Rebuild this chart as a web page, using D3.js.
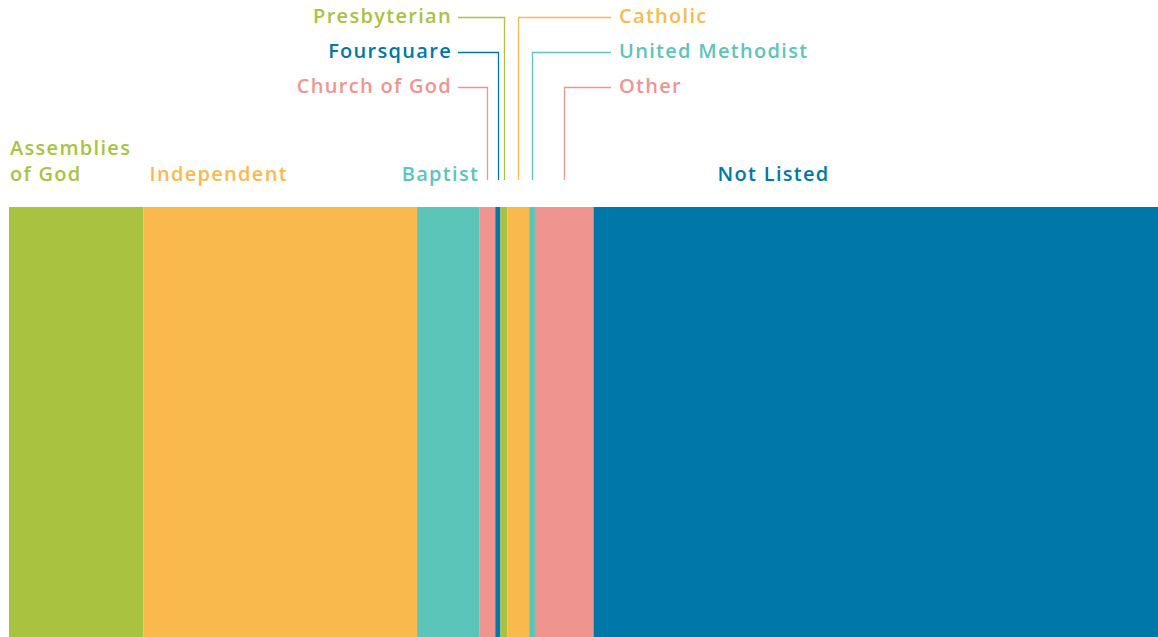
<!DOCTYPE html>
<html>
<head>
<meta charset="utf-8">
<script src="https://cdn.jsdelivr.net/npm/d3@7"></script>
<style>
  body { margin: 0; background: #fff; }
  text { font-family: "Open Sans", sans-serif; font-weight: 600; font-size: 20px; letter-spacing: 1.3px; }
</style>
</head>
<body>
<div id="chart"></div>
<script>
// denominations, share of churches (%)
var categories = [ 'Assemblies of God', 'Independent', 'Baptist', 'Church of God', 'Foursquare',
                   'Presbyterian', 'Catholic', 'United Methodist', 'Other', 'Not Listed' ];
var values     = [ 11.7, 23.8, 5.4, 1.4, 0.45, 0.6, 1.9, 0.5, 5.1, 49.1 ];
var colors     = [ '#A9C23F', '#F9B94D', '#5BC5BA', '#F09490', '#0077A9',
                   '#A9C23F', '#F9B94D', '#5BC5BA', '#F09490', '#0077A9' ];

var chart_width  = 1158;
var chart_height = 637;
var bar_top      = 207;

var svg = d3.select( '#chart' )
    .append( 'svg' )
    .attr( 'width', chart_width )
    .attr( 'height', chart_height );

// cumulative positions
var starts = [];
var total  = 0;
values.forEach( function( v ){ starts.push( total ); total += v; });

var x = d3.scaleLinear()
    .domain( [ 0, total ] )
    .range( [ 9, chart_width ] );

var data = categories.map( function( c, i ){
    return { name: c, value: values[i], start: starts[i], color: colors[i] };
});

svg.selectAll( 'rect' )
    .data( data )
    .enter()
    .append( 'rect' )
    .attr( 'x', function( d ){ return x( d.start ); } )
    .attr( 'y', bar_top )
    .attr( 'width', function( d ){ return x( d.start + d.value ) - x( d.start ); } )
    .attr( 'height', chart_height - bar_top )
    .attr( 'fill', function( d ){ return d.color; } );

// big labels sitting on the bars
var big = [
    { i: 0, lines: [ 'Assemblies', 'of God' ], dx: 1,   anchor: 'start' },
    { i: 1, lines: [ 'Independent' ],          dx: 6,   anchor: 'start' },
    { i: 2, lines: [ 'Baptist' ],              dx: 0,   anchor: 'end', atEnd: true },
    { i: 9, lines: [ 'Not Listed' ],           dx: 124, anchor: 'start' }
];

big.forEach( function( b ){
    var d = data[ b.i ];
    var px = ( b.atEnd ? x( d.start + d.value ) : x( d.start ) ) + b.dx;
    var t = svg.append( 'text' )
        .attr( 'x', px )
        .attr( 'y', 181 - ( b.lines.length - 1 ) * 26 )
        .attr( 'fill', d.color )
        .attr( 'text-anchor', b.anchor );
    b.lines.forEach( function( l, k ){
        t.append( 'tspan' )
            .attr( 'x', px )
            .attr( 'dy', k === 0 ? 0 : 26 )
            .text( l );
    });
});

// small slices with leader lines
var callouts = [
    { i: 5, side: 'left',  y: 17 },
    { i: 4, side: 'left',  y: 52 },
    { i: 3, side: 'left',  y: 87 },
    { i: 6, side: 'right', y: 17 },
    { i: 7, side: 'right', y: 52 },
    { i: 8, side: 'right', y: 87 }
];

callouts.forEach( function( c ){
    var d  = data[ c.i ];
    var cx = Math.round( x( d.start + d.value / 2 ) ) + 0.5;
    var ex = c.side === 'left' ? 458 : 611;
    svg.append( 'path' )
        .attr( 'd', 'M' + ex + ',' + ( c.y + 0.5 ) + 'H' + cx + 'V180' )
        .attr( 'fill', 'none' )
        .attr( 'stroke', d.color )
        .attr( 'stroke-width', 1.3 );
    svg.append( 'text' )
        .attr( 'x', c.side === 'left' ? 452 : 619 )
        .attr( 'y', c.y + 6 )
        .attr( 'fill', d.color )
        .attr( 'text-anchor', c.side === 'left' ? 'end' : 'start' )
        .text( d.name );
});
</script>
</body>
</html>
